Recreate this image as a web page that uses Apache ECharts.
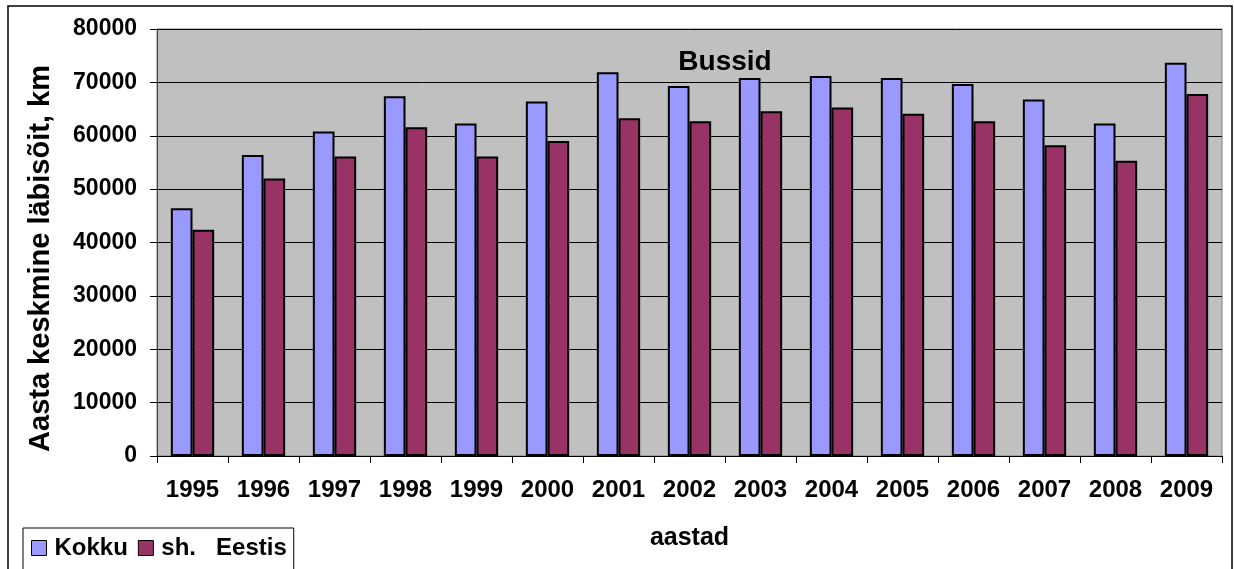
<!DOCTYPE html>
<html>
<head>
<meta charset="utf-8">
<title>Bussid</title>
<script src="https://cdn.jsdelivr.net/npm/echarts@6/dist/echarts.min.js"></script>
<style>
  html, body { margin: 0; padding: 0; background: #ffffff; }
  #chart { width: 1234px; height: 569px; }
</style>
</head>
<body>
<div id="chart"></div>
<script>
// Annual average mileage of buses, km
const years = ['1995','1996','1997','1998','1999','2000','2001','2002','2003','2004','2005','2006','2007','2008','2009'];
const kokku = [46400, 56400, 60800, 67400, 62300, 66400, 71900, 69300, 70800, 71200, 70800, 69700, 66800, 62300, 73700];
const eestis = [42400, 52000, 56100, 61600, 56100, 59000, 63300, 62700, 64600, 65300, 64100, 62700, 58200, 55300, 67800];
const seriesNames = ['Kokku', 'sh.   Eestis'];

const FONT = '"Liberation Sans", Arial, sans-serif';
const chart = echarts.init(document.getElementById('chart'), null, { renderer: 'canvas' });

chart.setOption({
  animation: false,
  backgroundColor: '#ffffff',
  textStyle: { fontFamily: FONT },
  title: {
    text: 'Bussid',
    left: 725,
    top: 62,
    padding: 0,
    textAlign: 'center',
    textVerticalAlign: 'middle',
    textStyle: { fontFamily: FONT, fontSize: 28, fontWeight: 'bold', color: '#000' }
  },
  graphic: [{
    type: 'rect',
    shape: { x: 8, y: 6, width: 1224, height: 600 },
    style: { fill: 'none', stroke: '#000', lineWidth: 1.5 },
    silent: true,
    z: 100
  }],
  legend: {
    data: seriesNames,
    left: 23,
    top: 528,
    orient: 'horizontal',
    icon: 'rect',
    itemWidth: 15,
    itemHeight: 15,
    itemGap: 10,
    padding: [8, 7, 14, 8],
    borderColor: '#000',
    borderWidth: 1,
    backgroundColor: '#fff',
    textStyle: { fontFamily: FONT, fontSize: 24, fontWeight: 'bold', color: '#000', padding: [0, 0, 0, 3] },
    itemStyle: { borderColor: '#000', borderWidth: 1 }
  },
  grid: {
    left: 157,
    right: 12,
    top: 29,
    bottom: 113,
    show: true,
    backgroundColor: '#C0C0C0',
    borderColor: '#808080',
    borderWidth: 1
  },
  xAxis: {
    type: 'category',
    data: years,
    boundaryGap: true,
    name: 'aastad',
    nameLocation: 'middle',
    nameGap: 70,
    nameTextStyle: { fontFamily: FONT, fontSize: 25, fontWeight: 'bold', color: '#000' },
    axisLine: { show: true, lineStyle: { color: '#000', width: 1 } },
    axisTick: { show: true, length: 7, lineStyle: { color: '#000' } },
    axisLabel: { interval: 0, margin: 22, fontFamily: FONT, fontSize: 24, fontWeight: 'bold', color: '#000' },
    splitLine: { show: false }
  },
  yAxis: {
    type: 'value',
    min: 0,
    max: 80000,
    interval: 10000,
    name: 'Aasta keskmine läbisõit, km',
    nameLocation: 'middle',
    nameGap: 102,
    nameTextStyle: { fontFamily: FONT, fontSize: 29, fontWeight: 'bold', color: '#000', padding: [0, 32, 0, 0] },
    axisLine: { show: true, lineStyle: { color: '#404040', width: 1 } },
    axisTick: { show: true, length: 7, lineStyle: { color: '#000' } },
    axisLabel: {
      margin: 20, fontFamily: FONT, fontSize: 23, fontWeight: 'bold', color: '#000',
      formatter: (v) => String(v)
    },
    splitLine: { show: true, lineStyle: { color: '#000', width: 1 } }
  },
  series: [
    {
      name: seriesNames[0],
      type: 'bar',
      data: kokku,
      barGap: '0%',
      barCategoryGap: '39%',
      itemStyle: { color: '#9999FF', borderColor: '#000', borderWidth: 2 }
    },
    {
      name: seriesNames[1],
      type: 'bar',
      data: eestis,
      itemStyle: { color: '#993366', borderColor: '#000', borderWidth: 2 }
    }
  ]
});
</script>
</body>
</html>
